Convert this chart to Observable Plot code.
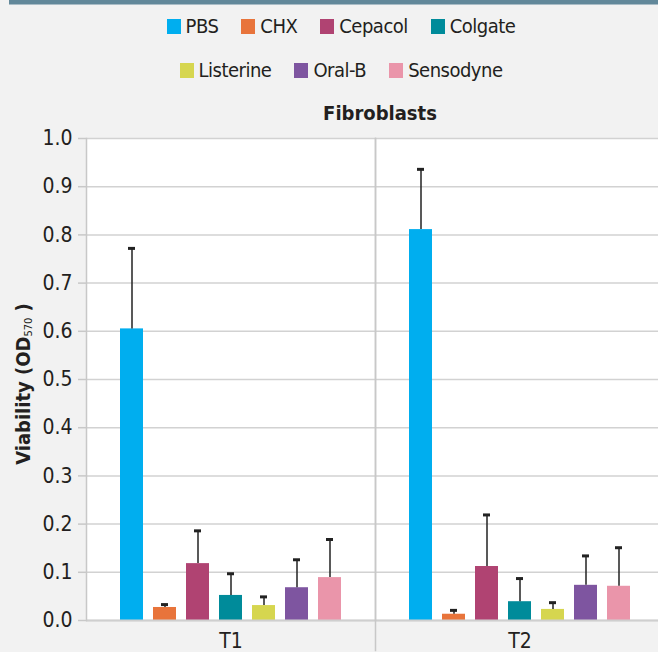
<!DOCTYPE html>
<html>
<head>
<meta charset="utf-8">
<script src="https://cdn.jsdelivr.net/npm/d3@7"></script>
<script src="https://cdn.jsdelivr.net/npm/@observablehq/plot@0.6"></script>
<style>
  html, body { margin: 0; padding: 0; background: #f2f2f2; overflow: hidden; }
  body { width: 658px; height: 652px; position: relative;
    font-family: "Liberation Sans Narrow", "DejaVu Sans Condensed", "Roboto Condensed", "Liberation Sans", sans-serif; color: #231f20; }
  #topbar { position: absolute; left: 9px; top: 0; width: 649px; height: 4px; background: #62889a; border-bottom: 1px solid #a9bcc6; }
  .legend-row { position: absolute; left: 24px; right: 0; display: flex; justify-content: center; gap: 23px; font-size: 20px; letter-spacing: -0.5px; line-height: 24px; }
  .legend-item { display: flex; align-items: center; gap: 5px; }
  .swatch { width: 14px; height: 15px; display: inline-block; }
  #title { position: absolute; left: 86px; width: 588px; top: 100px; text-align: center; font-weight: bold; font-size: 20px; line-height: 26px; }
  #ylabel { position: absolute; left: 23px; top: 384px; transform: translate(-50%, -50%) rotate(-90deg); white-space: nowrap; font-weight: bold; font-size: 20px; }
  #ylabel sub { font-size: 11px; font-weight: normal; vertical-align: -2px; }
  #chart { position: absolute; left: 0; top: 130px; width: 664px; }
  #chart svg { max-width: none !important; }
</style>
</head>
<body>
<div id="topbar"></div>
<div id="legend"></div>
<div id="title">Fibroblasts</div>
<div id="ylabel">Viability (OD<sub>570</sub> )</div>
<div id="chart"></div>
<script>
const series = ["PBS", "CHX", "Cepacol", "Colgate", "Listerine", "Oral-B", "Sensodyne"];
const colors = ["#00aeef", "#e8743b", "#b04372", "#008b9a", "#d6d64f", "#7e55a0", "#ea95aa"];
const times = ["T1", "T2"];
const meanT1 = [0.605, 0.027, 0.118, 0.052, 0.031, 0.068, 0.089];
const sdT1   = [0.167, 0.006, 0.068, 0.045, 0.018, 0.058, 0.079];
const meanT2 = [0.811, 0.013, 0.112, 0.039, 0.023, 0.073, 0.071];
const sdT2   = [0.125, 0.008, 0.107, 0.048, 0.014, 0.061, 0.080];
const yTicks = [0, 0.1, 0.2, 0.3, 0.4, 0.5, 0.6, 0.7, 0.8, 0.9, 1.0];
const legendRows = [["PBS", "CHX", "Cepacol", "Colgate"], ["Listerine", "Oral-B", "Sensodyne"]];

const FONT = '"Liberation Sans Narrow", "DejaVu Sans Condensed", "Roboto Condensed", "Liberation Sans", sans-serif';

// legend
const legend = document.getElementById("legend");
legendRows.forEach((row, ri) => {
  const div = document.createElement("div");
  div.className = "legend-row";
  div.style.top = (ri === 0 ? 14 : 58) + "px";
  row.forEach(name => {
    const item = document.createElement("span");
    item.className = "legend-item";
    const sw = document.createElement("span");
    sw.className = "swatch";
    sw.style.background = colors[series.indexOf(name)];
    const tx = document.createElement("span");
    tx.textContent = name;
    item.append(sw, tx);
    div.append(item);
  });
  legend.append(div);
});

const rows = [];
times.forEach((t, ti) => {
  const m = ti === 0 ? meanT1 : meanT2;
  const s = ti === 0 ? sdT1 : sdT2;
  series.forEach((name, si) => rows.push({time: t, series: name, mean: m[si], top: m[si] + s[si]}));
});

const chart = Plot.plot({
  width: 664,
  height: 522,
  marginTop: 8,
  marginBottom: 32,
  marginLeft: 86,
  marginRight: 0,
  style: {fontFamily: FONT, fontSize: "21px", background: "transparent", color: "#231f20", overflow: "visible", maxWidth: "none"},
  fx: {domain: times, padding: 0, label: null},
  x: {domain: series, paddingInner: 0.294, paddingOuter: 0.9, axis: null},
  y: {domain: [0, 1], axis: null},
  color: {domain: series, range: colors},
  marks: [
    Plot.frame({fill: "white", stroke: null}),
    Plot.gridY(yTicks, {stroke: "#d2d2d2", strokeOpacity: 1, strokeWidth: 1.5}),
    Plot.axisY(yTicks, {tickSize: 8, tickPadding: 6, stroke: "#c8c8c8", fill: "#231f20", strokeWidth: 1.5,
      tickFormat: d3.format(".1f"), label: null, fontSize: 21}),
    Plot.barY(rows, {fx: "time", x: "series", y: "mean", fill: "series"}),
    Plot.ruleX(rows, {fx: "time", x: "series", y1: "mean", y2: "top", stroke: "#222", strokeWidth: 1.5}),
    Plot.tickY(rows, {fx: "time", x: "series", y: "top", stroke: "#222", strokeWidth: 3, insetLeft: 8, insetRight: 8}),
    Plot.ruleY([0], {stroke: "#cfcfcf", strokeWidth: 2}),
    Plot.frame({anchor: "left", stroke: "#c8c8c8", strokeWidth: 1.5}),
    Plot.frame({anchor: "left", fx: "T2", stroke: "#c8c8c8", strokeWidth: 1.5, insetBottom: -30}),
    Plot.axisFx({anchor: "bottom", tickSize: 0, tickPadding: 13, fontSize: 21, label: null, fill: "#231f20"})
  ]
});
document.getElementById("chart").append(chart);
</script>
</body>
</html>
